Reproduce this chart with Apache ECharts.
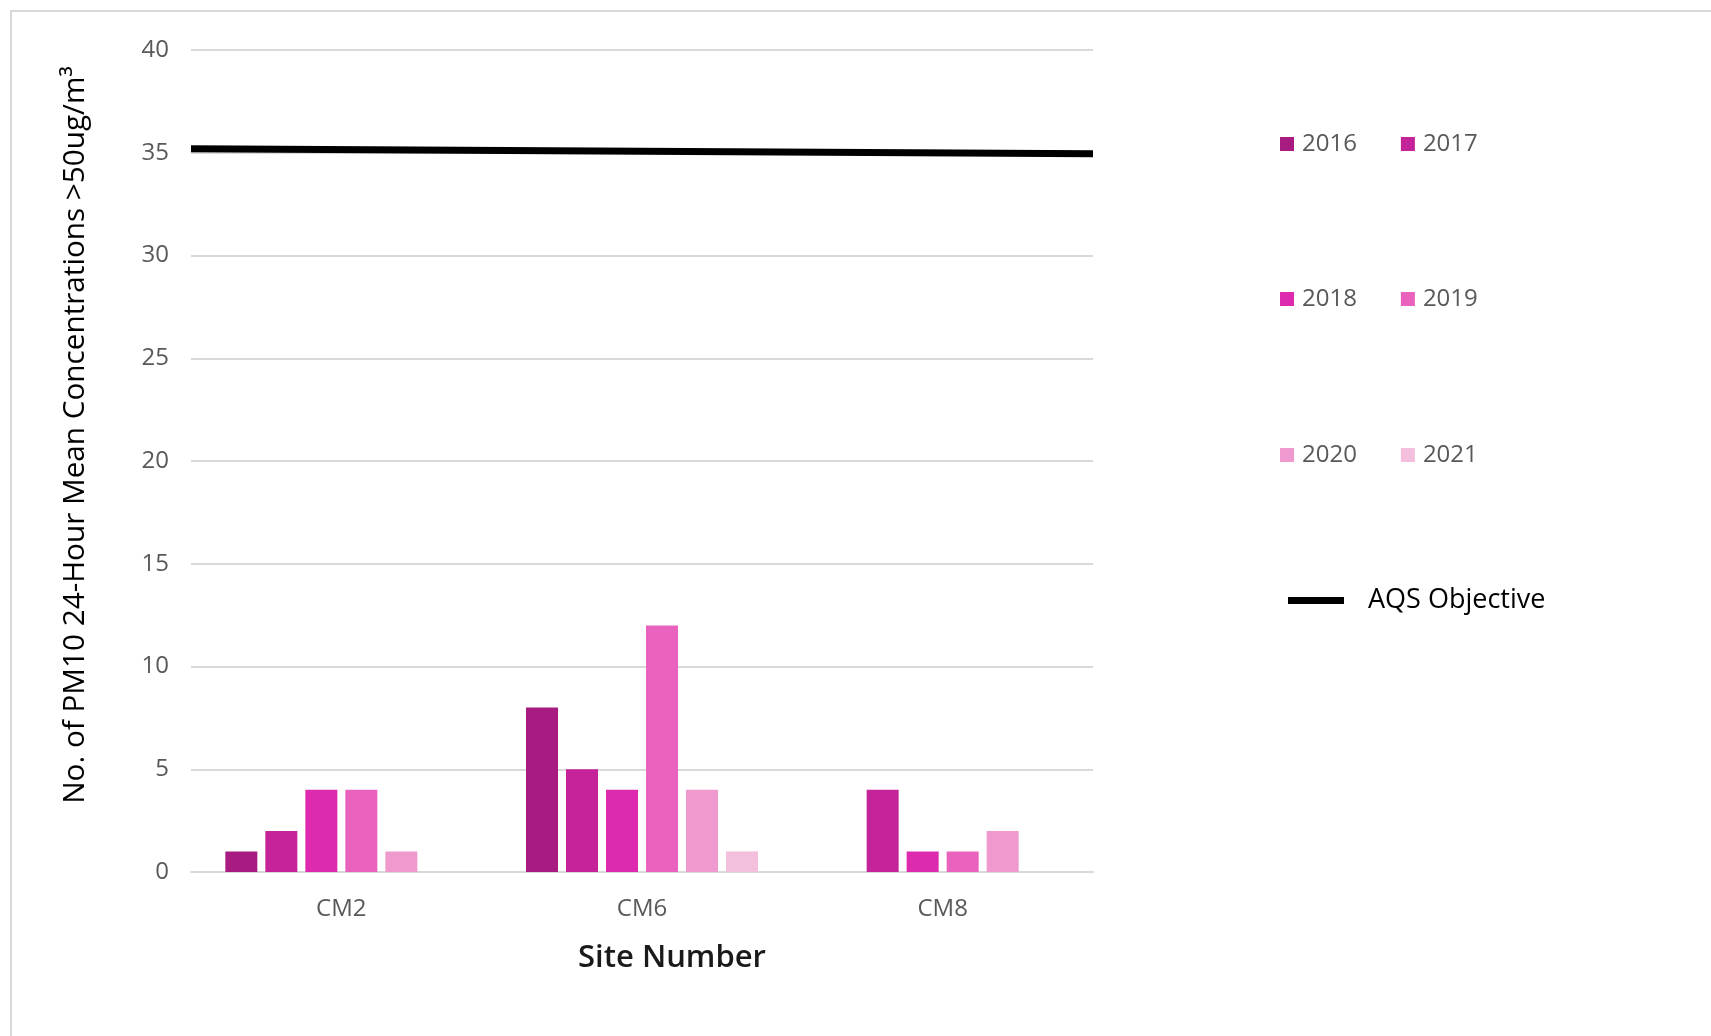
<!DOCTYPE html>
<html>
<head>
<meta charset="utf-8">
<script src="https://cdn.jsdelivr.net/npm/echarts@6/dist/echarts.min.js"></script>
<style>
html,body{margin:0;padding:0;background:#fff;}
#chart{width:1711px;height:1036px;}
</style>
</head>
<body>
<div id="chart"></div>
<script>
var sites = ['CM2', 'CM6', 'CM8'];
var years = ['2016', '2017', '2018', '2019', '2020', '2021'];
var v2016 = [1, 8, 0];
var v2017 = [2, 5, 4];
var v2018 = [4, 4, 1];
var v2019 = [4, 12, 1];
var v2020 = [1, 4, 2];
var v2021 = [0, 1, 0];
var yearColors = ['#A81C82', '#C4239A', '#DE2AAF', '#E963BE', '#F099CF', '#F4BEDD'];
var aqsName = 'AQS Objective';
var aqsX = [0, 1];
var aqsY = [35.2, 34.95];
var yTicks = {min: 0, max: 40, interval: 5};

var yearValues = [v2016, v2017, v2018, v2019, v2020, v2021];
var FONT = '"Open Sans", sans-serif';

var series = years.map(function (y, i) {
  return {
    name: y,
    type: 'bar',
    xAxisIndex: 0,
    data: yearValues[i],
    barWidth: 32,
    barGap: '25%',
    itemStyle: {color: yearColors[i]}
  };
});
series.push({
  name: aqsName,
  type: 'line',
  xAxisIndex: 1,
  data: aqsX.map(function (x, i) { return [x, aqsY[i]]; }),
  symbol: 'none',
  lineStyle: {color: '#000', width: 7},
  itemStyle: {color: '#000'},
  z: 5
});

function yearLegend(items, top) {
  return {
    data: items,
    left: 1275,
    top: top,
    orient: 'horizontal',
    itemGap: 44,
    itemWidth: 14,
    itemHeight: 14,
    icon: 'rect',
    selectedMode: false,
    textStyle: {fontFamily: FONT, fontSize: 24, color: '#595959', padding: [0, 0, 0, 3]}
  };
}

var chart = echarts.init(document.getElementById('chart'));
chart.setOption({
  backgroundColor: '#fff',
  animation: false,
  graphic: [{
    type: 'rect',
    shape: {x: 11, y: 11, width: 1720, height: 1040},
    style: {fill: 'none', stroke: '#d9d9d9', lineWidth: 2},
    silent: true
  }],
  grid: {left: 191, right: 618, top: 50, bottom: 164},
  legend: [
    yearLegend([years[0], years[1]], 127),
    yearLegend([years[2], years[3]], 282),
    yearLegend([years[4], years[5]], 438),
    {
      data: [aqsName],
      left: 1283,
      top: 582,
      itemWidth: 56,
      itemHeight: 7,
      icon: 'rect',
      selectedMode: false,
      itemStyle: {color: '#000'},
      textStyle: {fontFamily: FONT, fontSize: 27, color: '#000', padding: [0, 0, 0, 19]}
    }
  ],
  xAxis: [{
    type: 'category',
    data: sites,
    axisLine: {show: true, lineStyle: {color: '#d9d9d9', width: 2}},
    axisTick: {show: false},
    axisLabel: {fontFamily: FONT, fontSize: 24, color: '#595959', margin: 25},
    name: 'Site Number',
    nameLocation: 'middle',
    nameGap: 71,
    nameTextStyle: {fontFamily: FONT, fontSize: 31, fontWeight: 600, color: '#1a1a1a', padding: [0, 0, 0, 60]}
  }, {
    type: 'value',
    min: 0,
    max: 1,
    show: false
  }],
  yAxis: {
    type: 'value',
    min: yTicks.min,
    max: yTicks.max,
    interval: yTicks.interval,
    axisLine: {show: false},
    axisTick: {show: false},
    splitLine: {lineStyle: {color: '#d9d9d9', width: 2}},
    axisLabel: {fontFamily: FONT, fontSize: 24, color: '#595959', margin: 22},
    name: 'No. of PM10 24-Hour Mean Concentrations >50ug/m\u00B3',
    nameLocation: 'middle',
    nameGap: 100,
    nameTextStyle: {fontFamily: FONT, fontSize: 29.7, color: '#000', padding: [0, 0, 0, 52]}
  },
  series: series
});
</script>
</body>
</html>
